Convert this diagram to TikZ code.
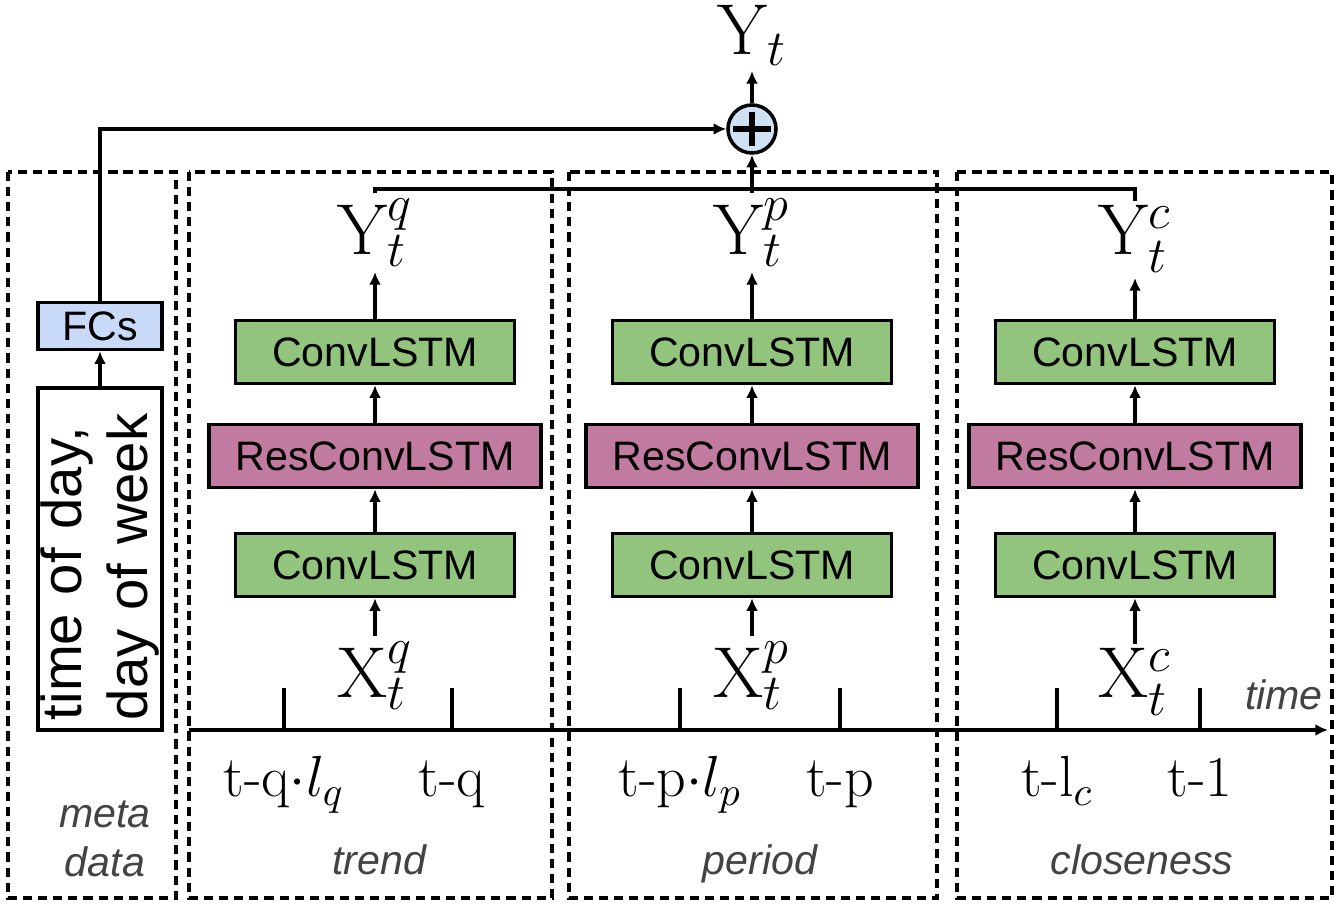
\RequirePackage{fix-cm}
\documentclass[tikz,border=0pt]{standalone}
\usepackage{fontspec}
\setsansfont{Liberation Sans}
\usetikzlibrary{arrows.meta}

\definecolor{lstmgreen}{HTML}{93C47D}
\definecolor{respink}{HTML}{C27BA0}
\definecolor{fcblue}{HTML}{C9DAF8}
\definecolor{sumblue}{HTML}{CFE2F3}
\definecolor{labelgray}{HTML}{434343}

\tikzset{
  lstmbox/.style={draw, line width=1pt, fill=lstmgreen, inner sep=0pt,
    minimum width=2.79cm, minimum height=0.63cm,
    font=\sffamily\fontsize{11.7}{14}\selectfont},
  resbox/.style={lstmbox, fill=respink, minimum width=3.32cm},
  fcbox/.style={lstmbox, fill=fcblue, minimum width=1.24cm, minimum height=0.47cm},
  metabox/.style={draw, line width=1pt, rotate=90, minimum height=1.24cm,
    text width=3.22cm, inner xsep=0.1cm, inner ysep=0pt, align=left,
    font=\sffamily\fontsize{16}{19}\selectfont},
  mathlabel/.style={inner sep=1pt, font=\fontsize{20.5}{24}\selectfont},
  ticklabel/.style={inner sep=0pt, anchor=base, font=\fontsize{16.5}{19}\selectfont},
  grouplabel/.style={inner sep=0pt, align=center, text=labelgray,
    font=\sffamily\itshape\fontsize{11.7}{14}\selectfont},
  groupbox/.style={draw, line width=1pt, dash pattern=on 2.6pt off 1.7pt},
  sumnode/.style={circle, draw, line width=1pt, fill=sumblue, minimum size=0.48cm, inner sep=0pt},
}

\begin{document}
\begin{tikzpicture}[x=0.01cm, y=-0.01cm, line width=0.95pt,
    >={Latex[length=3.6pt,width=3.4pt]}]
    \useasboundingbox (0,0) rectangle (1336,904);

    % ==== GROUP FRAMES ====
    \draw[groupbox] (8,172) rectangle (176,898);
    \draw[groupbox] (189,172) rectangle (552,898);
    \draw[groupbox] (569,172) rectangle (937,898);
    \draw[groupbox] (957,172) rectangle (1332,898);

    \node[grouplabel] (metalab) at (105,839) {meta\\data};
    \node[grouplabel, anchor=base] (trendlab) at (379,875) {trend};
    \node[grouplabel, anchor=base] (periodlab) at (760,875) {period};
    \node[grouplabel, anchor=base] (closelab) at (1142,875) {closeness};

    % ==== TIME AXIS ====
    \coordinate (axisL) at (189,730);
    \coordinate (axisR) at (1328,730);
    \draw[->] (axisL) -- (axisR);
    \node[grouplabel, anchor=base] (timelab) at (1284,710) {time};

    \foreach \tk/\tx/\txt in {a/284/{t-q$\cdot l_q$}, b/452/{t-q},
                              c/680/{t-p$\cdot l_p$}, d/840/{t-p},
                              e/1057/{t-l$_c$}, f/1200/{t-1}} {
        \coordinate (tick\tk) at (\tx,688);
        \draw (tick\tk) -- (tick\tk |- axisL);
        \node[ticklabel] (lab\tk) at (\tx,797) {\txt};
    }

    % ==== BRANCHES ====
    \foreach \col/\cx in {q/375, p/752, c/1135} {
        \node[lstmbox] (top\col) at (\cx,352) {ConvLSTM};
        \node[resbox] (res\col) at (\cx,456) {ResConvLSTM};
        \node[lstmbox] (bot\col) at (\cx,565) {ConvLSTM};
        \node[mathlabel, anchor=base] (X\col) at (\cx,698) {$\mathrm{X}_t^{\col}$};
        \node[mathlabel, anchor=base] (Y\col) at (\cx,255) {$\mathrm{Y}_t^{\col}$};
        \draw[->] (X\col) -- (bot\col);
        \draw[->] (bot\col) -- (res\col);
        \draw[->] (res\col) -- (top\col);
        \draw[->] (top\col) -- (Y\col);
    }

    % ==== META DATA ====
    \node[metabox] (meta) at (100,559) {time of day,\\day of week};
    \node[fcbox] (fcs) at (100,326) {FCs};
    \draw[->] (meta) -- (fcs);

    % ==== FUSION ====
    \node[sumnode] (sum) at (752,129) {};
    \draw[line width=1.6pt] (sum.center) ++(-19,0) -- ++(38,0);
    \draw[line width=1.6pt] (sum.center) ++(0,-17) -- ++(0,34);
    \node[mathlabel, anchor=base] (out) at (752,55) {$\mathrm{Y}_t$};

    \coordinate (join) at (752,189);
    \draw (Yq.north) |- (join) -| (Yc.north);
    \draw[->] (Yp.north) -- (sum);
    \draw[->] (fcs.north) |- (sum.west);
    \draw[->] (sum) -- (out);
\end{tikzpicture}
\end{document}
